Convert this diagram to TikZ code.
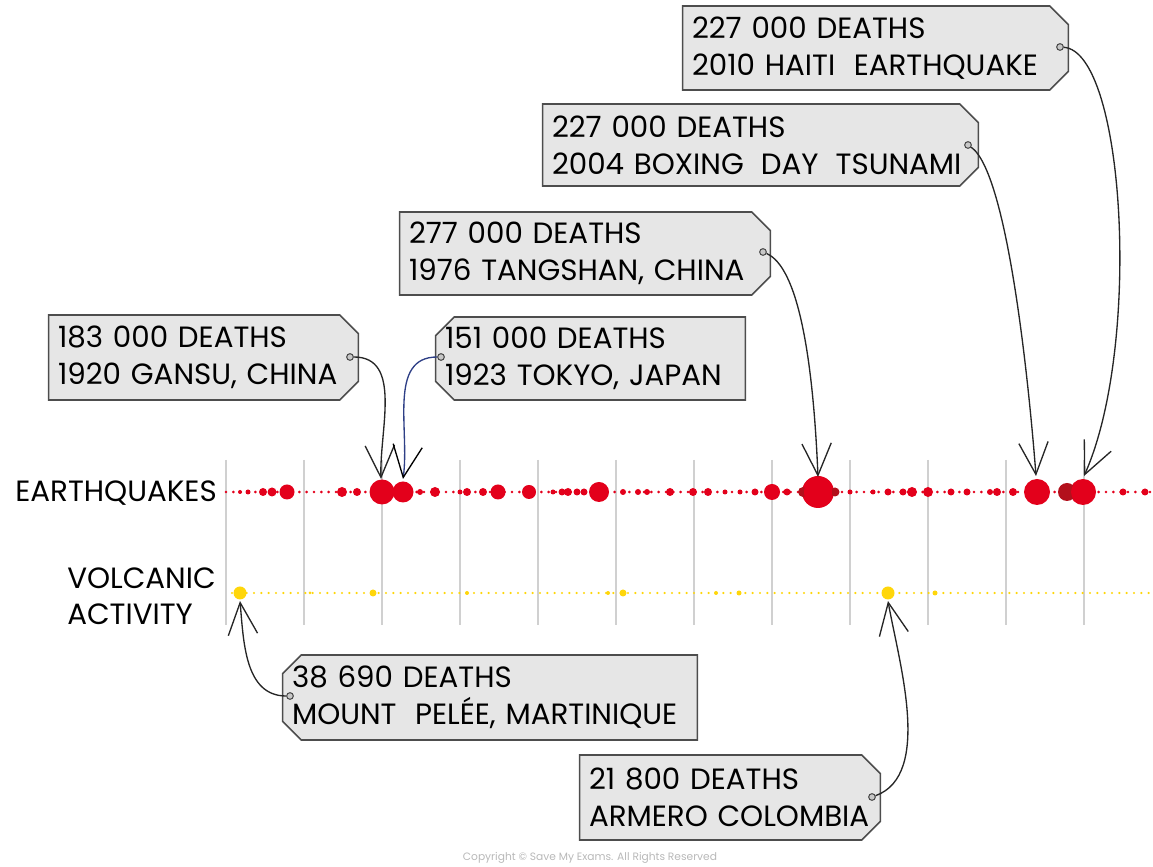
\documentclass[tikz,border=0pt]{standalone}
\usepackage{fontspec}
\setmainfont{Poppins}
\usetikzlibrary{arrows.meta, shapes.misc, positioning}
\definecolor{quake}{HTML}{E3001B}
\definecolor{quakedark}{HTML}{B3101C}
\definecolor{lava}{HTML}{FFD60A}
\definecolor{tagfill}{HTML}{E6E6E6}
\definecolor{tagline}{HTML}{4D4D4D}
\definecolor{gridgray}{HTML}{D0D0D0}
\definecolor{linkblue}{HTML}{2E3F86}

\begin{document}
\begin{tikzpicture}[x=0.75pt, y=0.75pt,
  tag/.style={chamfered rectangle, chamfered rectangle xsep=7pt, chamfered rectangle ysep=7pt, draw=tagline, fill=tagfill, line width=1.2pt, align=left, inner xsep=0pt, inner ysep=0pt, font=\fontsize{22}{27.75}\selectfont},
  tagR/.style={tag, chamfered rectangle corners={north east, south east}},
  tagL/.style={tag, chamfered rectangle corners={north west, south west}},
  pindot/.style={circle, draw=tagline, fill=tagfill!70!gray, line width=0.8pt, minimum size=5pt, inner sep=0pt},
  link/.style={draw=black!85, line width=1pt, -{Straight Barb[length=24pt, width=22pt, line width=1pt]}},
  rowlbl/.style={font=\fontsize{22}{27}\selectfont, inner sep=0pt, align=left},
  gridline/.style={draw=gridgray, line width=1.5pt}]

\useasboundingbox (0,0) rectangle (1153,867);

\foreach \k in {0,...,11}
  \draw[gridline] ({226+78*\k},407) -- ++(0,-165);

\draw[quake, line width=2.2pt, dash pattern=on 0pt off 5.5pt, line cap=round] (226,375) -- (1153,375);
\draw[lava, line width=1.8pt, dash pattern=on 0pt off 5.5pt, line cap=round] (232,274) -- (1153,274);

\foreach \x/\r in {240/2, 248/2.5, 263/4, 272/4.5, 287/7.5, 342/5, 357/4, 382/12.5, 403/10.5, 420/3, 435/5, 460/2.5, 467/4, 483/4, 498/7.5, 529/7, 553/2.5, 562/3.5, 568/4, 577/3.5, 584/3.5, 599/10, 623/3, 638/3, 647/3, 670/4, 693/4, 708/4, 725/2.5, 740/2.5, 755/3.5, 772/8, 787/3.5, 818/16, 850/2.5, 873/2.5, 888/3.5, 903/3.5, 912/5, 928/5, 951/3.5, 967/3.5, 990/3, 997/4, 1013/4, 1037/13, 1083/13, 1123/3.5, 1145/3.5}
  \fill[quake] (\x,375) circle[radius=\r];
\foreach \x/\r in {803/5, 835/4.5, 1067/9}
  \fill[quakedark] (\x,375) circle[radius=\r];
\fill[quake] (818,375) circle[radius=14];
\fill[quake] (1083,375) circle[radius=12];

\foreach \x/\r in {240/6.5, 310/1.5, 373/3.5, 467/2, 608/2, 623/3.5, 716/2, 739/2.5, 888/6.5, 935/2.5}
  \fill[lava] (\x,274) circle[radius=\r];

\node[rowlbl, anchor=base east] (quakes) at (217,365) {EARTHQUAKES};
\node[rowlbl, anchor=west] (volcs) at (67,271) {VOLCANIC\\ACTIVITY};

\node[tagR, minimum width=288.75pt, minimum height=63pt, text width=275.25pt] (haiti) at (875.5,819) {227 000 DEATHS\\2010 HAITI \hspace{0.3em}EARTHQUAKE};
\node[tagR, minimum width=326.25pt, minimum height=61.5pt, text width=312.75pt] (boxing) at (760.5,722) {227 000 DEATHS\\2004 BOXING \hspace{0.25em}DAY \hspace{0.25em}TSUNAMI};
\node[tagR, minimum width=277.5pt, minimum height=62.25pt, text width=264pt] (tangshan) at (585,613.5) {277 000 DEATHS\\1976 TANGSHAN, CHINA};
\node[tagR, minimum width=231.75pt, minimum height=63.75pt, text width=218.25pt] (gansu) at (203.5,509.5) {183 000 DEATHS\\1920 GANSU, CHINA};
\node[tagL, minimum width=231.75pt, minimum height=62.25pt, text width=218.25pt] (tokyo) at (590.5,508.5) {151 000 DEATHS\\1923 TOKYO, JAPAN};
\node[tagL, minimum width=310.5pt, minimum height=63.75pt, text width=297pt] (pelee) at (490,169.5) {38 690 DEATHS\\MOUNT \hspace{0.3em}PELÉE, MARTINIQUE};
\node[tagR, minimum width=225pt, minimum height=63.75pt, text width=211.5pt] (armero) at (730,69.5) {21 800 DEATHS\\ARMERO COLOMBIA};

\node[pindot] (haitipin) at (1060,820) {};
\node[pindot] (boxingpin) at (968,722) {};
\node[pindot] (tangshanpin) at (763,615) {};
\node[pindot] (gansupin) at (350,510) {};
\node[pindot] (tokyopin) at (441,510) {};
\node[pindot] (peleepin) at (290,171) {};
\node[pindot] (armeropin) at (872,70) {};

\coordinate (haitihit) at (1084,391);
\coordinate (boxinghit) at (1036,391);
\coordinate (tangshanhit) at (818,390);
\coordinate (gansuhit) at (381,388);
\coordinate (tokyohit) at (403,388);
\coordinate (peleehit) at (240,266);
\coordinate (armerohit) at (888,266);

\draw[link] (haitipin) .. controls +(65,-5) and +(58,130) .. (haitihit);
\draw[link] (boxingpin) .. controls +(43,-30) and +(-4,53) .. (boxinghit);
\draw[link] (tangshanpin) .. controls +(35,-15) and +(-5,120) .. (tangshanhit);
\draw[link] (gansupin) to[out=0, in=92] (gansuhit);
\draw[link, draw=linkblue, -{Straight Barb[length=24pt, width=22pt, line width=1pt, color=black]}] (tokyopin) to[out=180, in=82] (tokyohit);
\draw[link] (peleepin) to[out=180, in=-85] (peleehit);
\draw[link] (armeropin) to[out=20, in=-80, looseness=0.8] (armerohit);

\node[font=\fontsize{8}{9}\selectfont, text=black!28] (copy) at (590,9) {Copyright © Save My Exams. All Rights Reserved};
\end{tikzpicture}
\end{document}
